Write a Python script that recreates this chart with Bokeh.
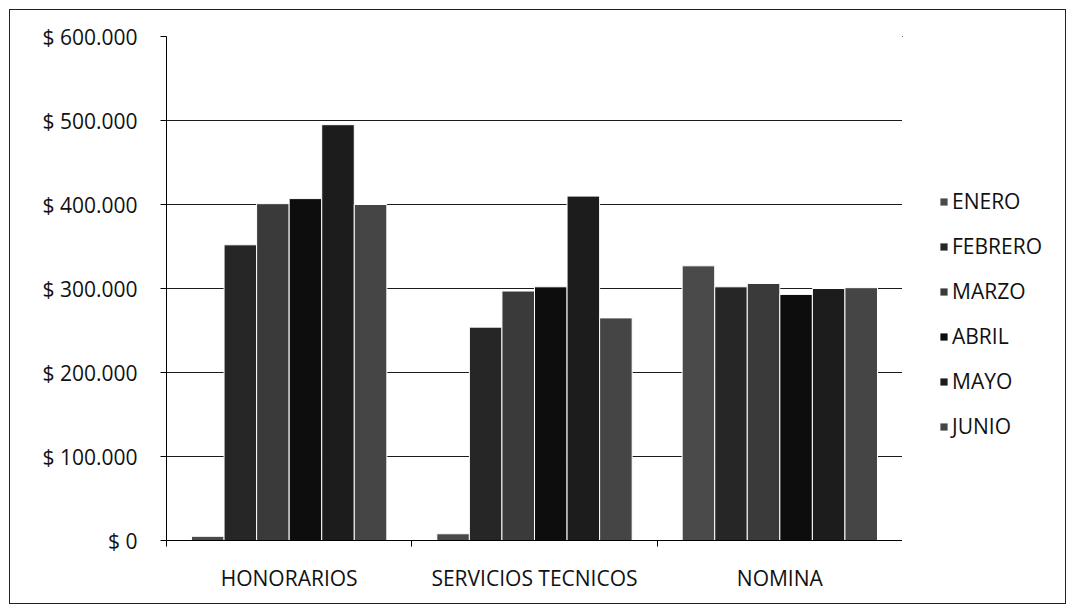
from bokeh.plotting import figure
from bokeh.layouts import row
from bokeh.models import (ColumnDataSource, Range1d, FixedTicker, CustomJSTickFormatter,
                          Legend, LegendItem)
from bokeh.transform import dodge
from bokeh.embed import file_html
from bokeh.resources import INLINE
import numpy as np

categories = ["HONORARIOS", "SERVICIOS TECNICOS", "NOMINA"]
months = ["ENERO", "FEBRERO", "MARZO", "ABRIL", "MAYO", "JUNIO"]
enero = [5000, 8000, 327000]
febrero = [352000, 254000, 302000]
marzo = [401000, 297000, 306000]
abril = [407000, 302000, 293000]
mayo = [495000, 410000, 300000]
junio = [400000, 265000, 301000]
y_ticks = [0, 100000, 200000, 300000, 400000, 500000, 600000]

colors = ["#4a4a4a", "#262626", "#3a3a3a", "#0d0d0d", "#1c1c1c", "#454545"]
series = [enero, febrero, marzo, abril, mayo, junio]

centers = np.arange(len(categories)) + 0.5
data = {"x": centers, "cat": categories}
for m, s in zip(months, series):
    data[m] = s
source = ColumnDataSource(data)

FONT = "Open Sans"
FS = "21px"
H = 593

p = figure(width=892, height=H, output_backend="svg", toolbar_location=None,
           x_range=Range1d(0, len(categories)), y_range=Range1d(0, 600000),
           min_border_left=156, min_border_top=26, min_border_bottom=63,
           min_border_right=0)
p.outline_line_color = None
p.background_fill_color = "white"

barw = 0.1327
for i, (m, c) in enumerate(zip(months, colors)):
    p.vbar(x=dodge("x", (i - 2.5) * barw, range=p.x_range), top=m, width=barw,
           source=source, fill_color=c, line_color="white", line_width=1)

# y axis
p.yaxis.ticker = FixedTicker(ticks=y_ticks)
p.yaxis.formatter = CustomJSTickFormatter(code="""
    return "$ " + Math.round(tick).toString().replace(/\\B(?=(\\d{3})+(?!\\d))/g, ".");
""")
p.yaxis.major_label_text_font = FONT
p.yaxis.major_label_text_font_size = FS
p.yaxis.major_label_text_color = "#111"
p.yaxis.major_tick_out = 6
p.yaxis.major_tick_in = 0
p.yaxis.minor_tick_out = 0
p.yaxis.minor_tick_in = 0
p.yaxis.major_label_standoff = 23
p.yaxis.axis_line_color = "black"
p.yaxis.major_tick_line_color = "black"

# x axis
p.xaxis.ticker = FixedTicker(ticks=list(centers),
                             minor_ticks=list(np.arange(len(categories) + 1)))
p.xaxis.major_label_overrides = {float(c): cat for c, cat in zip(centers, categories)}
p.xaxis.major_label_text_font = FONT
p.xaxis.major_label_text_font_size = FS
p.xaxis.major_label_text_color = "#111"
p.xaxis.major_tick_out = 0
p.xaxis.major_tick_in = 0
p.xaxis.minor_tick_out = 6
p.xaxis.minor_tick_in = 0
p.xaxis.minor_tick_line_color = "black"
p.xaxis.major_label_standoff = 17
p.xaxis.axis_line_color = "black"

p.xgrid.grid_line_color = None
p.ygrid.grid_line_color = "#1a1a1a"
p.ygrid.grid_line_width = 1

# legend panel (separate figure to the right of the plot); its bars lie outside
# its view range so only the legend swatches show
lp = figure(width=163, height=H, output_backend="svg", toolbar_location=None,
            x_range=Range1d(100, 101), y_range=Range1d(-2e7, -1e7),
            min_border_left=0, min_border_right=0, min_border_top=0, min_border_bottom=0)
lp.axis.visible = False
lp.grid.visible = False
lp.outline_line_color = None
items = []
for m, c in zip(months, colors):
    r = lp.vbar(x="x", top=m, width=0.1, source=source, fill_color=c, line_color=None)
    items.append(LegendItem(label=m, renderers=[r]))

legend = Legend(items=items, location=(37, 100), orientation="vertical",
                border_line_color=None, background_fill_alpha=0,
                label_text_font=FONT, label_text_font_size=FS,
                label_text_color="#111",
                glyph_width=9, glyph_height=9, label_standoff=4,
                spacing=17, padding=0, margin=0, label_height=28)
lp.add_layout(legend, "center")

layout = row(p, lp, spacing=0,
             styles={"border": "1px solid #222", "margin-left": "9px", "margin-top": "9px"})

open("out.html", "w").write(file_html(layout, INLINE))
